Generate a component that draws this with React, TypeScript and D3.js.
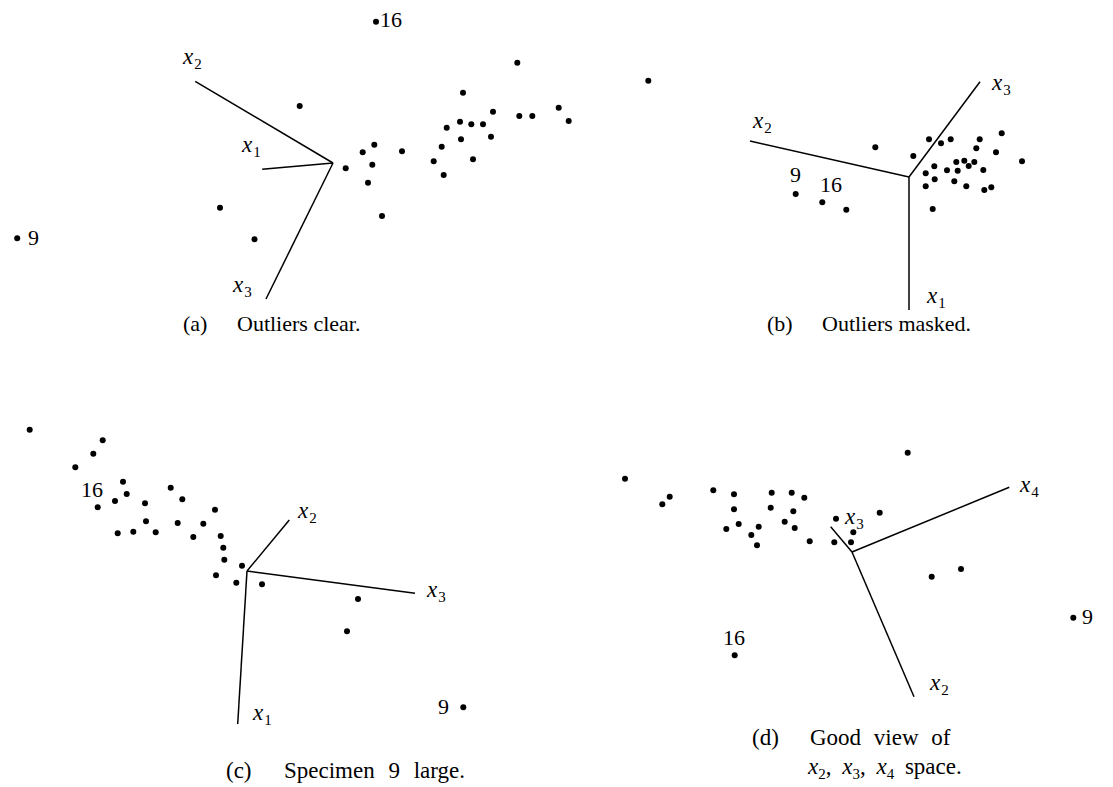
import React from "react";
import * as d3 from "d3";

type P = [number, number];

// ---------- Data: projected coordinates of the specimens (relative to the axis origin, y up) ----------
const panelAPoints: P[] = [
  [43, 141.3], [-315.8, -75.3], [-33.3, 57], [-113, -44.7], [-78.5, -76.3], [49, -53],
  [12.7, -5.3], [29.7, 10.7], [41.3, 18.3], [39.3, -1.7], [35, -19.7], [69, 11.7],
  [100.7, 1.7], [108.7, 16.3], [110.7, -12], [113.7, 35.3], [127, 41.3], [128, 23.7],
  [130, 70.3], [138.3, 38.7], [140, 3.7], [150, 38.7], [158, 26.3], [160, 51.3],
  [184.3, 100.3], [186.3, 47], [199.3, 47], [225.7, 55.3], [235.7, 42],
];
const panelAAxes: { name: string; end: P }[] = [
  { name: "1", end: [-70.8, -6.3] },
  { name: "2", end: [-137.8, 81.7] },
  { name: "3", end: [-67, -136] },
];
const panelAAxisLabels: { name: string; at: P }[] = [
  { name: "2", at: [-150, 99] },
  { name: "1", at: [-91, 11] },
  { name: "3", at: [-100, -129] },
];
const panelASpecimenLabels: { text: string; at: P }[] = [
  { text: "16", at: [47, 136] },
  { text: "9", at: [-305, -82] },
];

const panelBPoints: P[] = [
  [-260.7, 96.3], [-33.7, 29.7], [-113.3, -17], [-86.7, -25.3], [-62.7, -32.7],
  [20, 37.7], [32, 33.7], [41.7, 37.7], [4.3, 21], [70.7, 37.7], [92.7, 43.7],
  [67.3, 28.7], [87, 24.7], [113, 15.7], [25.3, 10.7], [16.7, 3.7], [47.3, 15],
  [55.3, 16.3], [59.7, 11], [65.3, 15], [38, 6.7], [48.7, 6.3], [74.3, 7],
  [25.7, -2.3], [16.7, -9.3], [45.3, -4.3], [57.3, -9.3], [75.3, -13], [82.3, -10.3],
  [23.7, -32],
];
const panelBAxes: { name: string; end: P }[] = [
  { name: "1", end: [0, -133] },
  { name: "2", end: [-159, 36] },
  { name: "3", end: [71, 95.3] },
];
const panelBAxisLabels: { name: string; at: P }[] = [
  { name: "3", at: [83, 87] },
  { name: "2", at: [-156, 49] },
  { name: "1", at: [18, -126] },
];
const panelBSpecimenLabels: { text: string; at: P }[] = [
  { text: "9", at: [-119, -5] },
  { text: "16", at: [-89, -15] },
];

const panelCPoints: P[] = [
  [-217.3, 141.3], [-144.3, 130.7], [-153.7, 117.3], [-171.7, 103.7], [-124, 89.3],
  [-120.3, 77], [-132, 70], [-149.3, 63.7], [-102, 67.7], [-76.3, 83.3], [-64.7, 71.7],
  [-32, 61.3], [-129.3, 37.7], [-113.7, 39.3], [-101, 49.7], [-91.3, 38.7], [-69.3, 48],
  [-43.7, 47.3], [-53.7, 34], [-26.3, 35], [-23.7, 23.3], [-22.7, 11.3], [-5, 5.3],
  [-31, -4.3], [-10.7, -11.7], [15, -13.3], [111, -28], [100, -60.3], [216.3, -136.3],
];
const panelCAxes: { name: string; end: P }[] = [
  { name: "1", end: [-9.3, -153] },
  { name: "2", end: [42.3, 51] },
  { name: "3", end: [168, -22.3] },
];
const panelCAxisLabels: { name: string; at: P }[] = [
  { name: "2", at: [51, 53] },
  { name: "3", at: [180, -26] },
  { name: "1", at: [6, -149] },
];
const panelCSpecimenLabels: { text: string; at: P }[] = [
  { text: "16", at: [-166, 74] },
  { text: "9", at: [191, -143] },
];

const panelDPoints: P[] = [
  [55.7, 99.3], [-227, 73.3], [-182.3, 55.3], [-189.7, 47.7], [-138.7, 61.7], [-118, 57.7],
  [-80.3, 59.3], [-60.3, 59.3], [-47.7, 54.3], [-118, 42.7], [-81.3, 44.3], [-58.7, 40.7],
  [-16, 33.3], [27.7, 39.3], [-125.7, 23], [-113.3, 28], [-93.3, 25.3], [-100.7, 17],
  [-95, 6.7], [-67.3, 30.3], [-57.3, 24], [-42.3, 10.7], [-17.7, 9.7], [-1, 9.7],
  [1.3, 19.7], [79.7, -24.7], [109, -17], [221.3, -65.7], [-117.3, -103.3],
];
const panelDAxes: { name: string; end: P }[] = [
  { name: "2", end: [62, -144.7] },
  { name: "3", end: [-21.3, 25.3] },
  { name: "4", end: [157.3, 64.7] },
];
const panelDAxisLabels: { name: string; at: P }[] = [
  { name: "3", at: [-7, 28] },
  { name: "4", at: [168, 60] },
  { name: "2", at: [78, -138] },
];
const panelDSpecimenLabels: { text: string; at: P }[] = [
  { text: "16", at: [-129, -93] },
  { text: "9", at: [230, -72] },
];

const captionLetters = ["(a)", "(b)", "(c)", "(d)"];
const captionTexts = ["Outliers clear.", "Outliers masked.", "Specimen 9 large.", "Good view of"];

// ---------- Layout ----------
const W = 1113;
const H = 787;
const FONT = "'Liberation Serif', 'Times New Roman', serif";
const FS = 22;
const LFS = 23;
const SUB = 15;

const panels = [
  { points: panelAPoints, axes: panelAAxes, axisLabels: panelAAxisLabels, spec: panelASpecimenLabels, origin: [333, 163], cap: [183, 237, 331], ws: 0, cfs: 22 },
  { points: panelBPoints, axes: panelBAxes, axisLabels: panelBAxisLabels, spec: panelBSpecimenLabels, origin: [909, 177], cap: [767, 822, 331], ws: 0, cfs: 22 },
  { points: panelCPoints, axes: panelCAxes, axisLabels: panelCAxisLabels, spec: panelCSpecimenLabels, origin: [247, 571], cap: [226, 284, 778], ws: 8, cfs: 23 },
  { points: panelDPoints, axes: panelDAxes, axisLabels: panelDAxisLabels, spec: panelDSpecimenLabels, origin: [852, 552], cap: [752, 810, 745], ws: 7, cfs: 23 },
];

function XLabel({ x, y, sub }: { x: number; y: number; sub: string }) {
  return (
    <text x={x} y={y} fontFamily={FONT} fontSize={LFS} fill="#000">
      <tspan fontStyle="italic">x</tspan>
      <tspan fontSize={SUB} dx={1} dy={5}>{sub}</tspan>
    </text>
  );
}

function Panel({ p, i }: { p: (typeof panels)[number]; i: number }) {
  const [ox, oy] = p.origin;
  const xs = d3.scaleLinear().domain([0, 100]).range([ox, ox + 100]);
  const ys = d3.scaleLinear().domain([0, 100]).range([oy, oy - 100]);
  const line = d3.line<P>().x((d) => xs(d[0])).y((d) => ys(d[1]));
  return (
    <g>
      {p.axes.map((a) => (
        <path key={a.name} d={line([[0, 0], a.end]) || ""} stroke="#000" strokeWidth={1.5} fill="none" />
      ))}
      {p.points.map((d, k) => (
        <circle key={k} cx={xs(d[0])} cy={ys(d[1])} r={3} fill="#000" />
      ))}
      {p.axisLabels.map((l, k) => (
        <XLabel key={k} x={xs(l.at[0])} y={ys(l.at[1])} sub={l.name} />
      ))}
      {p.spec.map((s, k) => (
        <text key={k} x={xs(s.at[0])} y={ys(s.at[1])} fontFamily={FONT} fontSize={FS} fill="#000">
          {s.text}
        </text>
      ))}
      <text x={p.cap[0]} y={p.cap[2]} fontFamily={FONT} fontSize={p.cfs} fill="#000">{captionLetters[i]}</text>
      <text x={p.cap[1]} y={p.cap[2]} fontFamily={FONT} fontSize={p.cfs} fill="#000" style={{ wordSpacing: p.ws }}>
        {captionTexts[i]}
      </text>
    </g>
  );
}

export default function App() {
  return (
    <div style={{ position: "absolute", left: 0, top: 0, width: W, height: H, background: "#fff" }}>
      <svg width={W} height={H} style={{ display: "block" }}>
        <rect width={W} height={H} fill="#fff" />
        {panels.map((p, i) => (
          <Panel key={i} p={p} i={i} />
        ))}
        <text x={808} y={774} fontFamily={FONT} fontSize={23} fill="#000" style={{ wordSpacing: 5 }}>
          <tspan fontStyle="italic">x</tspan>
          <tspan fontSize={SUB} dy={5}>2</tspan>
          <tspan dy={-5}>, </tspan>
          <tspan fontStyle="italic">x</tspan>
          <tspan fontSize={SUB} dy={5}>3</tspan>
          <tspan dy={-5}>, </tspan>
          <tspan fontStyle="italic">x</tspan>
          <tspan fontSize={SUB} dy={5}>4</tspan>
          <tspan dy={-5}> space.</tspan>
        </text>
      </svg>
    </div>
  );
}
